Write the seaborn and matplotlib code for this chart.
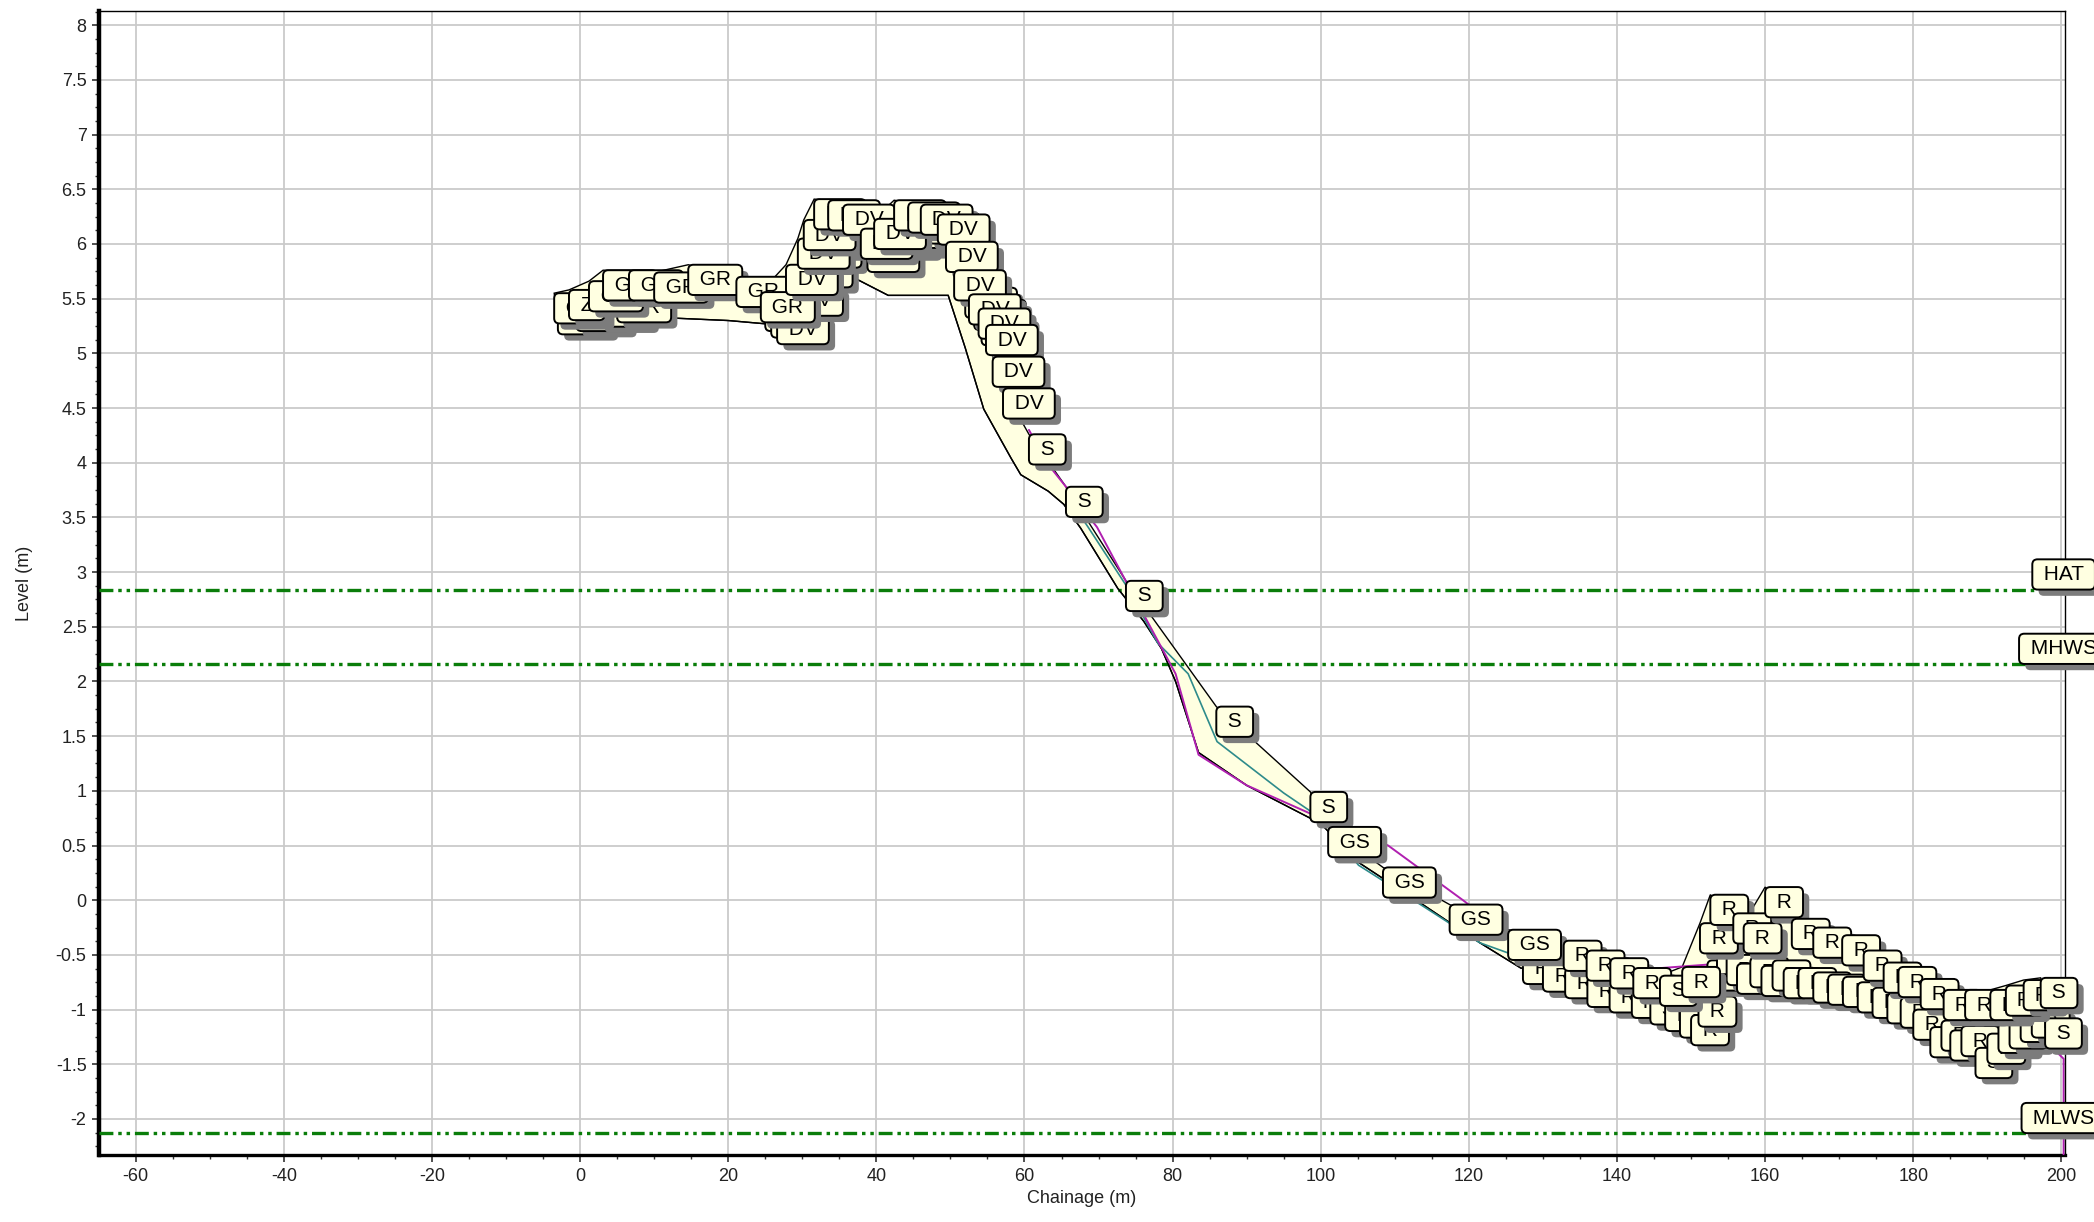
import numpy as np
import seaborn as sns
import matplotlib.pyplot as plt
import matplotlib.patheffects as pe
from matplotlib.ticker import MultipleLocator, FuncFormatter

# top survey - every point carries a feature code box
top_ch = [-3.5, -1.5, 1.2, 3.1, 6.6, 10.0, 14.6, 21.1, 24.4,
          27.8, 29.4, 30.2, 31.6, 33.5, 35.5, 37.9, 39.7, 42.4, 44.3, 46.0,
          48.3, 49.4, 50.5, 52.5, 53.8, 54.8, 55.7, 57.1,
          60.6, 65.6, 73.7, 85.9, 98.6,
          101.0, 108.4, 117.4, 125.3,
          132.8, 135.9, 139.1, 142.2, 145.8, 148.8, 151.2, 152.6, 155.7, 157.1,
          160.0, 163.6, 166.5, 170.4, 173.3, 176.0, 178.0, 181.0, 184.1, 187.0,
          190.4, 192.5, 194.9, 197.2]
top_lv = [5.55, 5.58, 5.66, 5.76, 5.76, 5.74, 5.81, 5.70, 5.56,
          5.81, 6.05, 6.22, 6.41, 6.40, 6.36, 6.14, 6.23, 6.40, 6.38, 6.36,
          6.27, 6.02, 5.76, 5.54, 5.41, 5.26, 4.97, 4.68,
          4.26, 3.78, 2.92, 1.77, 0.99,
          0.67, 0.30, -0.04, -0.27,
          -0.37, -0.46, -0.53, -0.62, -0.69, -0.61, -0.21, 0.05, -0.12, -0.21,
          0.12, -0.17, -0.25, -0.32, -0.46, -0.57, -0.61, -0.72, -0.82, -0.82,
          -0.82, -0.78, -0.73, -0.71]
top_code = (['GR', 'Z'] + ['GR'] * 7 + ['DV'] * 19 + ['S'] * 5 + ['GS'] * 4
            + ['R'] * 4 + ['S'] + ['R'] * 18 + ['S'])

# second survey - codes only (its boxes sit behind the top survey)
sec_ch = [-3.0, -0.5, 2.5, 5.0, 25.0, 25.8, 26.6, 28.5, 29.8, 31.0, 32.5,
          34.2, 36.6, 38.8, 41.0, 43.0, 45.2, 47.0, 52.0, 53.2, 54.2,
          127.3, 130.0, 133.0, 136.0, 139.0, 142.0, 144.5, 146.5, 148.5, 150.0,
          151.0, 152.2, 153.5, 154.8, 156.2, 158.0, 159.5, 161.0, 162.5, 164.5,
          166.5, 168.5, 170.5, 172.5, 174.5, 176.5, 178.3, 180.0, 182.3, 183.8,
          185.0, 186.5, 188.4, 190.0, 191.5, 193.0, 194.5, 196.0, 197.8]
sec_lv = [5.45, 5.48, 5.52, 5.56, 5.48, 5.42, 5.36, 5.62, 5.88, 6.06, 6.18,
          6.22, 6.26, 6.02, 6.18, 6.20, 6.24, 6.28, 5.60, 5.49, 5.35,
          -0.49, -0.56, -0.62, -0.70, -0.75, -0.80, -0.86, -0.92, -0.98, -1.05,
          -0.88, -0.55, -0.40, -0.50, -0.58, -0.52, -0.60, -0.55, -0.62, -0.62,
          -0.66, -0.68, -0.70, -0.75, -0.80, -0.85, -0.89, -1.00, -1.16, -1.10,
          -1.19, -1.15, -1.35, -1.22, -1.12, -1.08, -1.02, -0.98, -1.08]
sec_code = (['GR'] * 5 + ['DV'] * 16 + ['R'] * 6 + ['S'] + ['R'] * 25
            + ['S'] + ['R'] * 5 + ['S'])

# lowest survey (lower edge of the envelope)
bed_ch = [-3.0, 0.0, 10.0, 20.0, 25.0, 28.0, 33.0, 37.0, 41.6, 49.7, 52.0,
          54.5, 56.8, 58.2, 59.5, 63.2, 65.3, 67.6, 72.6, 76.1, 78.5, 80.4,
          83.5, 90.0, 100.0, 105.0, 114.0, 121.5, 127.0, 135.0, 145.0, 150.0,
          155.0, 165.0, 175.0, 185.0, 195.0, 200.3]
bed_lv = [5.30, 5.35, 5.33, 5.30, 5.27, 5.35, 5.55, 5.69, 5.53, 5.53, 5.05,
          4.49, 4.21, 4.04, 3.89, 3.74, 3.62, 3.40, 2.85, 2.55, 2.30, 2.00,
          1.35, 1.05, 0.70, 0.35, -0.05, -0.39, -0.62, -0.75, -0.85, -0.95,
          -0.75, -0.80, -0.95, -1.15, -1.25, -1.40]

mag_ch = [60.6, 63.0, 65.6, 69.8, 75.0, 80.4, 83.5, 90.0, 100.0, 109.1, 119.2,
          125.0, 140.0, 160.0, 180.0, 195.0, 200.3, 200.3]
mag_lv = [4.30, 4.00, 3.78, 3.41, 2.75, 2.07, 1.33, 1.05, 0.75, 0.50, 0.00,
          -0.30, -0.65, -0.55, -0.85, -1.10, -1.45, -2.60]

teal_ch = [66.5, 68.6, 73.7, 78.0, 82.1, 86.0, 95.0, 100.0, 105.1, 113.7,
           121.5, 125.2, 127.5]
teal_lv = [3.62, 3.41, 2.88, 2.35, 2.07, 1.45, 0.98, 0.75, 0.32, -0.05,
           -0.39, -0.48, -0.52]

tide_names = ['HAT', 'MHWS', 'MLWS']
tide_levels = [2.84, 2.16, -2.13]

box_fill = '#FFFFE1'
tide_green = '#0A7D0A'

sns.set_theme(style='whitegrid')
plt.rcParams['font.family'] = ['Liberation Sans', 'DejaVu Sans']
plt.rcParams['lines.scale_dashes'] = False

fig = plt.figure(figsize=(20.94, 12.22), dpi=100)
ax = fig.add_axes([0.0473, 0.0548, 0.9389, 0.9362])
ax.set_facecolor('white')

# envelope between highest and lowest survey
ax.fill(list(top_ch) + bed_ch[::-1], list(top_lv) + bed_lv[::-1],
        facecolor=box_fill, edgecolor='black', lw=1.0, zorder=2)

for lvl in tide_levels:
    ax.axhline(lvl, color=tide_green, lw=2.4, dashes=(10, 3.5, 2.5, 3.5, 2.5, 3.5),
               zorder=3)

sns.lineplot(x=bed_ch, y=bed_lv, sort=False, estimator=None, color='black',
             lw=1.0, ax=ax, zorder=4)
sns.lineplot(x=teal_ch, y=teal_lv, sort=False, estimator=None, color='#2E8B8B',
             lw=1.2, ax=ax, zorder=4)
sns.lineplot(x=mag_ch, y=mag_lv, sort=False, estimator=None, color='#B020B0',
             lw=1.4, ax=ax, zorder=4)

shadow = [pe.SimplePatchShadow(offset=(4.5, -4.5), shadow_rgbFace='#7c7c7c', alpha=1.0),
          pe.Normal()]
fs = 15
pad = 0.27


def code_box(x, y, code, va='top', ha='left', dx=None, dy=None, z=5):
    off = pad * fs
    t = ax.annotate(f' {code} ', xy=(x, y),
                    xytext=(off if dx is None else dx, -off if dy is None else dy),
                    textcoords='offset points', ha=ha, va=va, fontsize=fs,
                    color='black', zorder=z, annotation_clip=False,
                    bbox=dict(boxstyle=f'round,pad={pad},rounding_size=0.25',
                              fc=box_fill, ec='black', lw=1.4))
    t.get_bbox_patch().set_path_effects(shadow)
    return t


for x, y, c in zip(sec_ch, sec_lv, sec_code):
    code_box(x, y, c)
for x, y, c in zip(top_ch, top_lv, top_code):
    code_box(x, y, c)
for name, lvl in zip(tide_names, tide_levels):
    code_box(200.3, lvl, name, va='bottom', ha='center', dx=0, dy=pad * fs, z=6)

ax.set_xlim(-64.95, 200.5)
ax.set_ylim(-2.33, 8.13)
ax.xaxis.set_major_locator(MultipleLocator(20))
ax.xaxis.set_minor_locator(MultipleLocator(5))
ax.yaxis.set_major_locator(MultipleLocator(0.5))
ax.yaxis.set_minor_locator(MultipleLocator(0.125))
ax.yaxis.set_major_formatter(FuncFormatter(lambda v, p: f'{v:g}'))
ax.xaxis.set_major_formatter(FuncFormatter(lambda v, p: f'{v:g}'))

ax.grid(True, which='major', color='#CACACA', lw=1.3)
ax.grid(False, which='minor')
ax.set_axisbelow(True)

for side in ['top', 'right']:
    ax.spines[side].set_color('black')
    ax.spines[side].set_linewidth(1.0)
ax.spines['left'].set_color('black')
ax.spines['left'].set_linewidth(3.2)
ax.spines['bottom'].set_color('black')
ax.spines['bottom'].set_linewidth(2.4)
ax.spines['right'].set_zorder(4.5)

ax.tick_params(which='both', direction='out', color='#333333', labelsize=13,
               labelcolor='#222222', left=True, bottom=True)
ax.tick_params(which='major', length=5, width=1.2, pad=4)
ax.tick_params(which='minor', length=3, width=1.0)

ax.set_xlabel('Chainage (m)', fontsize=13, color='#222222', labelpad=4)
ax.set_ylabel('Level (m)', fontsize=13, color='#222222', labelpad=16)

fig.savefig('out.png', dpi=100, facecolor='white')
